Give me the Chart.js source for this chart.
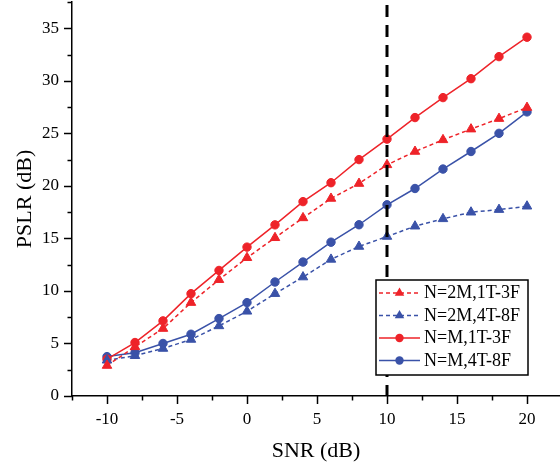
<!DOCTYPE html>
<html>
<head>
<meta charset="utf-8">
<script src="https://cdn.jsdelivr.net/npm/chart.js@4/dist/chart.umd.min.js"></script>
<style>
  html, body { margin: 0; padding: 0; background: #ffffff; }
  #wrap { width: 560px; height: 467px; }
</style>
</head>
<body>
<div id="wrap"><canvas id="c" width="560" height="467"></canvas></div>
<script>
// ---- data ----
const snr = [-10, -8, -6, -4, -2, 0, 2, 4, 6, 8, 10, 12, 14, 16, 18, 20];
const n2m_1t3f = [2.9, 4.68, 6.42, 8.89, 11.07, 13.16, 15.06, 16.95, 18.8, 20.22, 22.0, 23.27, 24.38, 25.4, 26.4, 27.45];
const n2m_4t8f = [3.4, 3.83, 4.52, 5.38, 6.67, 8.06, 9.74, 11.32, 13.0, 14.23, 15.18, 16.16, 16.86, 17.49, 17.74, 18.06];
const nm_1t3f  = [3.5, 5.09, 7.15, 9.74, 11.95, 14.17, 16.29, 18.5, 20.3, 22.5, 24.45, 26.5, 28.4, 30.2, 32.3, 34.15];
const nm_4t8f  = [3.75, 4.11, 5.0, 5.88, 7.37, 8.89, 10.85, 12.75, 14.64, 16.3, 18.2, 19.75, 21.6, 23.27, 25.0, 27.04];
const seriesNames = ['N=2M,1T-3F', 'N=2M,4T-8F', 'N=M,1T-3F', 'N=M,4T-8F'];
const xTickLabels = [-10, -5, 0, 5, 10, 15, 20];
const yTickLabels = [0, 5, 10, 15, 20, 25, 30, 35];
const xMinorStep = 2.5, yMinorStep = 2.5;
const markerLine = 10; // vertical reference line at SNR = 10 dB

const RED = '#ee2329';
const BLUE = '#3a52a8';
const FONT = "'Liberation Serif', 'Times New Roman', serif";

function pts(ys) { return snr.map((x, i) => ({ x: x, y: ys[i] })); }

const datasets = [
  { label: seriesNames[0], data: pts(n2m_1t3f), borderColor: RED, backgroundColor: RED,
    borderDash: [4, 3], pointStyle: 'triangle', pointRadius: 5.5 },
  { label: seriesNames[1], data: pts(n2m_4t8f), borderColor: BLUE, backgroundColor: BLUE,
    borderDash: [4, 3], pointStyle: 'triangle', pointRadius: 5.5 },
  { label: seriesNames[2], data: pts(nm_1t3f), borderColor: RED, backgroundColor: RED,
    borderDash: [], pointStyle: 'circle', pointRadius: 4.2 },
  { label: seriesNames[3], data: pts(nm_4t8f), borderColor: BLUE, backgroundColor: BLUE,
    borderDash: [], pointStyle: 'circle', pointRadius: 4.2 }
].map(d => Object.assign({ borderWidth: 1.5, pointBorderWidth: 1, pointBorderColor: d.borderColor,
  pointHoverRadius: d.pointRadius, tension: 0, fill: false }, d));

// ticks (major/minor) drawn from the scales
const tickPlugin = {
  id: 'ticksPlugin',
  afterDraw(chart) {
    const ctx = chart.ctx;
    const xs = chart.scales.x, ys = chart.scales.y;
    const ca = chart.chartArea;
    ctx.save();
    ctx.strokeStyle = '#000';
    ctx.lineWidth = 1.5;
    ctx.setLineDash([]);
    const xStart = Math.ceil(xs.min / xMinorStep) * xMinorStep;
    for (let v = xStart; v <= xs.max + 1e-9; v += xMinorStep) {
      const px = Math.round(xs.getPixelForValue(v)) + 0.5;
      const major = Math.abs(v / 5 - Math.round(v / 5)) < 1e-6;
      const len = major ? 8 : 4.5;
      ctx.beginPath();
      ctx.moveTo(px, ca.bottom);
      ctx.lineTo(px, ca.bottom + len);
      ctx.stroke();
    }
    const yStart = Math.ceil(ys.min / yMinorStep) * yMinorStep;
    for (let v = yStart; v <= ys.max + 1e-9; v += yMinorStep) {
      const py = Math.round(ys.getPixelForValue(v)) + 0.5;
      const major = Math.abs(v / 5 - Math.round(v / 5)) < 1e-6;
      const len = major ? 8 : 4.5;
      ctx.beginPath();
      ctx.moveTo(ca.left, py);
      ctx.lineTo(ca.left - len, py);
      ctx.stroke();
    }
    ctx.restore();
  }
};

// vertical dashed reference line + legend box
const overlayPlugin = {
  id: 'overlayPlugin',
  afterDatasetsDraw(chart) {
    const ctx = chart.ctx;
    const xs = chart.scales.x;
    const ca = chart.chartArea;
    const px = xs.getPixelForValue(markerLine);
    ctx.save();
    ctx.strokeStyle = '#000';
    ctx.lineWidth = 3;
    ctx.setLineDash([12, 8]);
    ctx.beginPath();
    ctx.moveTo(px, ca.top + 3);
    ctx.lineTo(px, ca.bottom);
    ctx.stroke();
    ctx.restore();

    // legend
    const bx = 376, by = 280, bw = 152, bh = 95;
    ctx.save();
    ctx.fillStyle = '#fff';
    ctx.fillRect(bx, by, bw, bh);
    ctx.strokeStyle = '#000';
    ctx.lineWidth = 1.5;
    ctx.setLineDash([]);
    ctx.strokeRect(bx, by, bw, bh);
    const rowY = [293, 315.5, 338, 360.5];
    chart.data.datasets.forEach((d, i) => {
      const y = rowY[i];
      ctx.strokeStyle = d.borderColor;
      ctx.lineWidth = 1.5;
      ctx.setLineDash(d.borderDash || []);
      ctx.beginPath();
      ctx.moveTo(379, y);
      ctx.lineTo(420, y);
      ctx.stroke();
      ctx.setLineDash([]);
      ctx.fillStyle = d.borderColor;
      const cx = 399.5;
      if (d.pointStyle === 'circle') {
        ctx.beginPath();
        ctx.arc(cx, y, d.pointRadius, 0, Math.PI * 2);
        ctx.fill();
      } else {
        const r = d.pointRadius;
        ctx.beginPath();
        ctx.moveTo(cx, y - r);
        ctx.lineTo(cx + r * Math.sin(Math.PI / 3), y + r * 0.5);
        ctx.lineTo(cx - r * Math.sin(Math.PI / 3), y + r * 0.5);
        ctx.closePath();
        ctx.fill();
      }
      ctx.fillStyle = '#000';
      ctx.font = '18px ' + FONT;
      ctx.textBaseline = 'middle';
      ctx.textAlign = 'left';
      ctx.fillText(d.label, 424, y + 0.5);
    });
    ctx.restore();
  }
};

function noPad(s) { s.paddingLeft = 0; s.paddingRight = 0; s.paddingTop = 0; s.paddingBottom = 0; }

Chart.defaults.font.family = FONT;
Chart.defaults.color = '#000';

new Chart(document.getElementById('c'), {
  type: 'line',
  data: { datasets: datasets },
  plugins: [tickPlugin, overlayPlugin],
  options: {
    responsive: false,
    animation: false,
    devicePixelRatio: 1,
    layout: { autoPadding: false, padding: { top: 2, left: 0, right: 0, bottom: 0 } },
    plugins: { legend: { display: false }, tooltip: { enabled: false } },
    scales: {
      x: {
        type: 'linear',
        min: -12.5,
        max: 22.357,
        afterFit(s) { s.height = 71; noPad(s); },
        afterBuildTicks(s) { s.ticks = xTickLabels.map(v => ({ value: v })); },
        grid: { display: false, drawTicks: false },
        border: { display: true, color: '#000', width: 1.5 },
        ticks: { padding: 13, font: { size: 17 }, color: '#000', maxRotation: 0, autoSkip: false,
          callback: v => String(v) },
        title: { display: true, text: 'SNR (dB)', font: { size: 22 }, color: '#000',
          padding: { top: 0, bottom: 3 } }
      },
      y: {
        type: 'linear',
        min: 0,
        max: 37.5,
        afterFit(s) { s.width = 72; noPad(s); },
        afterBuildTicks(s) { s.ticks = yTickLabels.map(v => ({ value: v })); },
        grid: { display: false, drawTicks: false },
        border: { display: true, color: '#000', width: 1.5 },
        ticks: { padding: 13, font: { size: 17 }, color: '#000', autoSkip: false,
          callback: v => String(v) },
        title: { display: true, text: 'PSLR (dB)', font: { size: 22 }, color: '#000',
          padding: { top: 12, bottom: 0 } }
      }
    }
  }
});
</script>
</body>
</html>
